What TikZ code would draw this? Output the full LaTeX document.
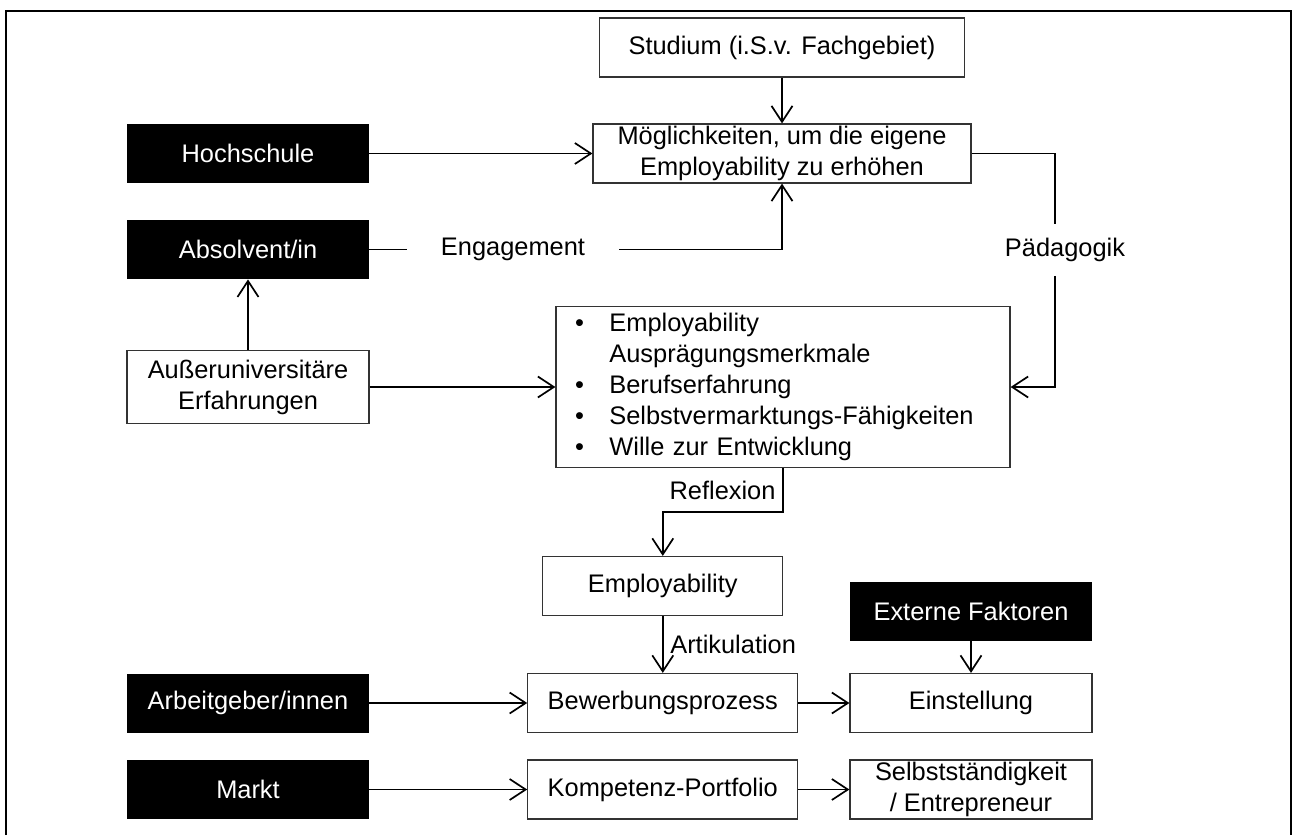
\documentclass[tikz,border=0pt]{standalone}
\usepackage{fontspec}
\setmainfont{Liberation Sans}
\usetikzlibrary{arrows.meta}
\tikzstyle{lightBox} = [shape=rectangle, draw=black!80, line width=0.6pt, text=black,
	align=center, fill=white, inner ysep=0.5pt]
\tikzstyle{darkBox} = [shape=rectangle, text=white, align=center,
	fill=black, inner ysep=0.5pt]
\tikzstyle{normalArrow} = [line width=0.85pt, ->, >={Straight Barb[length=8pt,width=10.5pt]}, draw=black]
\tikzstyle{normalLine} = [line width=0.85pt, draw=black]
\tikzstyle{LightBox} = [lightBox, minimum width=121pt, minimum height=29.5pt]
\tikzstyle{DarkBox} = [darkBox, minimum width=121pt, minimum height=29.5pt]

\begin{document}
\begin{tikzpicture}[x=1pt, y=1pt, node distance=48pt, font=\fontsize{12.7pt}{15.5pt}\selectfont]
  \useasboundingbox (0,0) rectangle (647.5,-417.5);
  \draw [line width=1pt] (2.85,-417.5) -- (2.85,-5.5) -- (645.5,-5.5) -- (645.5,-417.5);

  \node (HOCH) [DarkBox] at (124,-76.75) {Hochschule};
  \node (ABSOL) [DarkBox, below of=HOCH] {Absolvent/in};
  \node (AUSSEN) [LightBox, below of=ABSOL, yshift=-20.75pt, minimum height=36.7pt] {Außeruniversitäre\\Erfahrungen};
  \node (ARBEIT) [DarkBox, below of=AUSSEN, yshift=-110pt] {Arbeitgeber/innen};
  \node (MARKT) [DarkBox, below of=ARBEIT, yshift=4.75pt] {Markt};
  \node (MOEG) [LightBox, right of=HOCH, xshift=219pt, minimum width=189pt] {Möglichkeiten, um die eigene\\Employability zu erhöhen};
  \node (STUDIUM) [LightBox, above of=MOEG, yshift=5pt, minimum width=182.5pt] {Studium (i.S.v. Fachgebiet)};
  \node (LISTE) [lightBox, below of=MOEG, xshift=0.5pt, yshift=-68.75pt, text width=208pt,
    inner xsep=9.5pt, minimum height=80.5pt, align=left] {\begin{tabular}{@{}p{17.2pt}@{}l@{}}
    \textbullet & Employability\\
     & Ausprägungsmerkmale\\
    \textbullet & Berufserfahrung\\
    \textbullet & Selbstvermarktungs-Fähigkeiten\\
    \textbullet & Wille zur Entwicklung
  \end{tabular}};
  \node (EMPLOY) [LightBox, below of=LISTE, xshift=-60.1pt, yshift=-51.5pt, minimum width=120pt] {Employability};
  \node (BEWERB) [LightBox, below of=EMPLOY, yshift=-10.5pt, minimum width=135pt] {Bewerbungsprozess};
  \node (KOMPET) [LightBox, below of=BEWERB, yshift=4.75pt, minimum width=135pt] {Kompetenz-Portfolio};
  \node (EINST) [LightBox, right of=BEWERB, xshift=106.1pt] {Einstellung};
  \node (EXTERN) [DarkBox, above of=EINST, yshift=-2pt] {Externe Faktoren};
  \node (SELBST) [LightBox, below of=EINST, yshift=4.75pt] {Selbstständigkeit\\/ Entrepreneur};
  \node (ENGAGE) [right of=ABSOL, xshift=84.5pt, inner xsep=16.8pt] {Engagement};
  \node (PAED) [right of=MOEG, xshift=93.5pt, yshift=-48.25pt, minimum height=25.5pt] {Pädagogik};

  \draw [normalArrow] (STUDIUM) -- (MOEG);
  \draw [normalArrow] (HOCH) -- (MOEG);
  \draw [normalLine] (ABSOL) -- (ENGAGE);
  \draw [normalArrow] (ENGAGE) -| (MOEG);
  \draw [normalArrow] (AUSSEN) -- (ABSOL);
  \draw [normalArrow] (AUSSEN) -- (LISTE);
  \draw [normalLine] (MOEG.east) -| ([xshift=-5pt]PAED.north);
  \draw [normalArrow] ([xshift=-5pt]PAED.south) |- (LISTE.east);
  \draw [normalArrow] (LISTE.south) -- ++(0,-22pt) node (REFLEX) [midway, left] {Reflexion} -| (EMPLOY.north);
  \draw [normalArrow] (EMPLOY) -- node (ARTIK) [right] {Artikulation} (BEWERB);
  \draw [normalArrow] (EXTERN) -- (EINST);
  \draw [normalArrow] (ARBEIT) -- (BEWERB);
  \draw [normalArrow] (BEWERB) -- (EINST);
  \draw [normalArrow] (MARKT) -- (KOMPET);
  \draw [normalArrow] (KOMPET) -- (SELBST);

\end{tikzpicture}
\end{document}
